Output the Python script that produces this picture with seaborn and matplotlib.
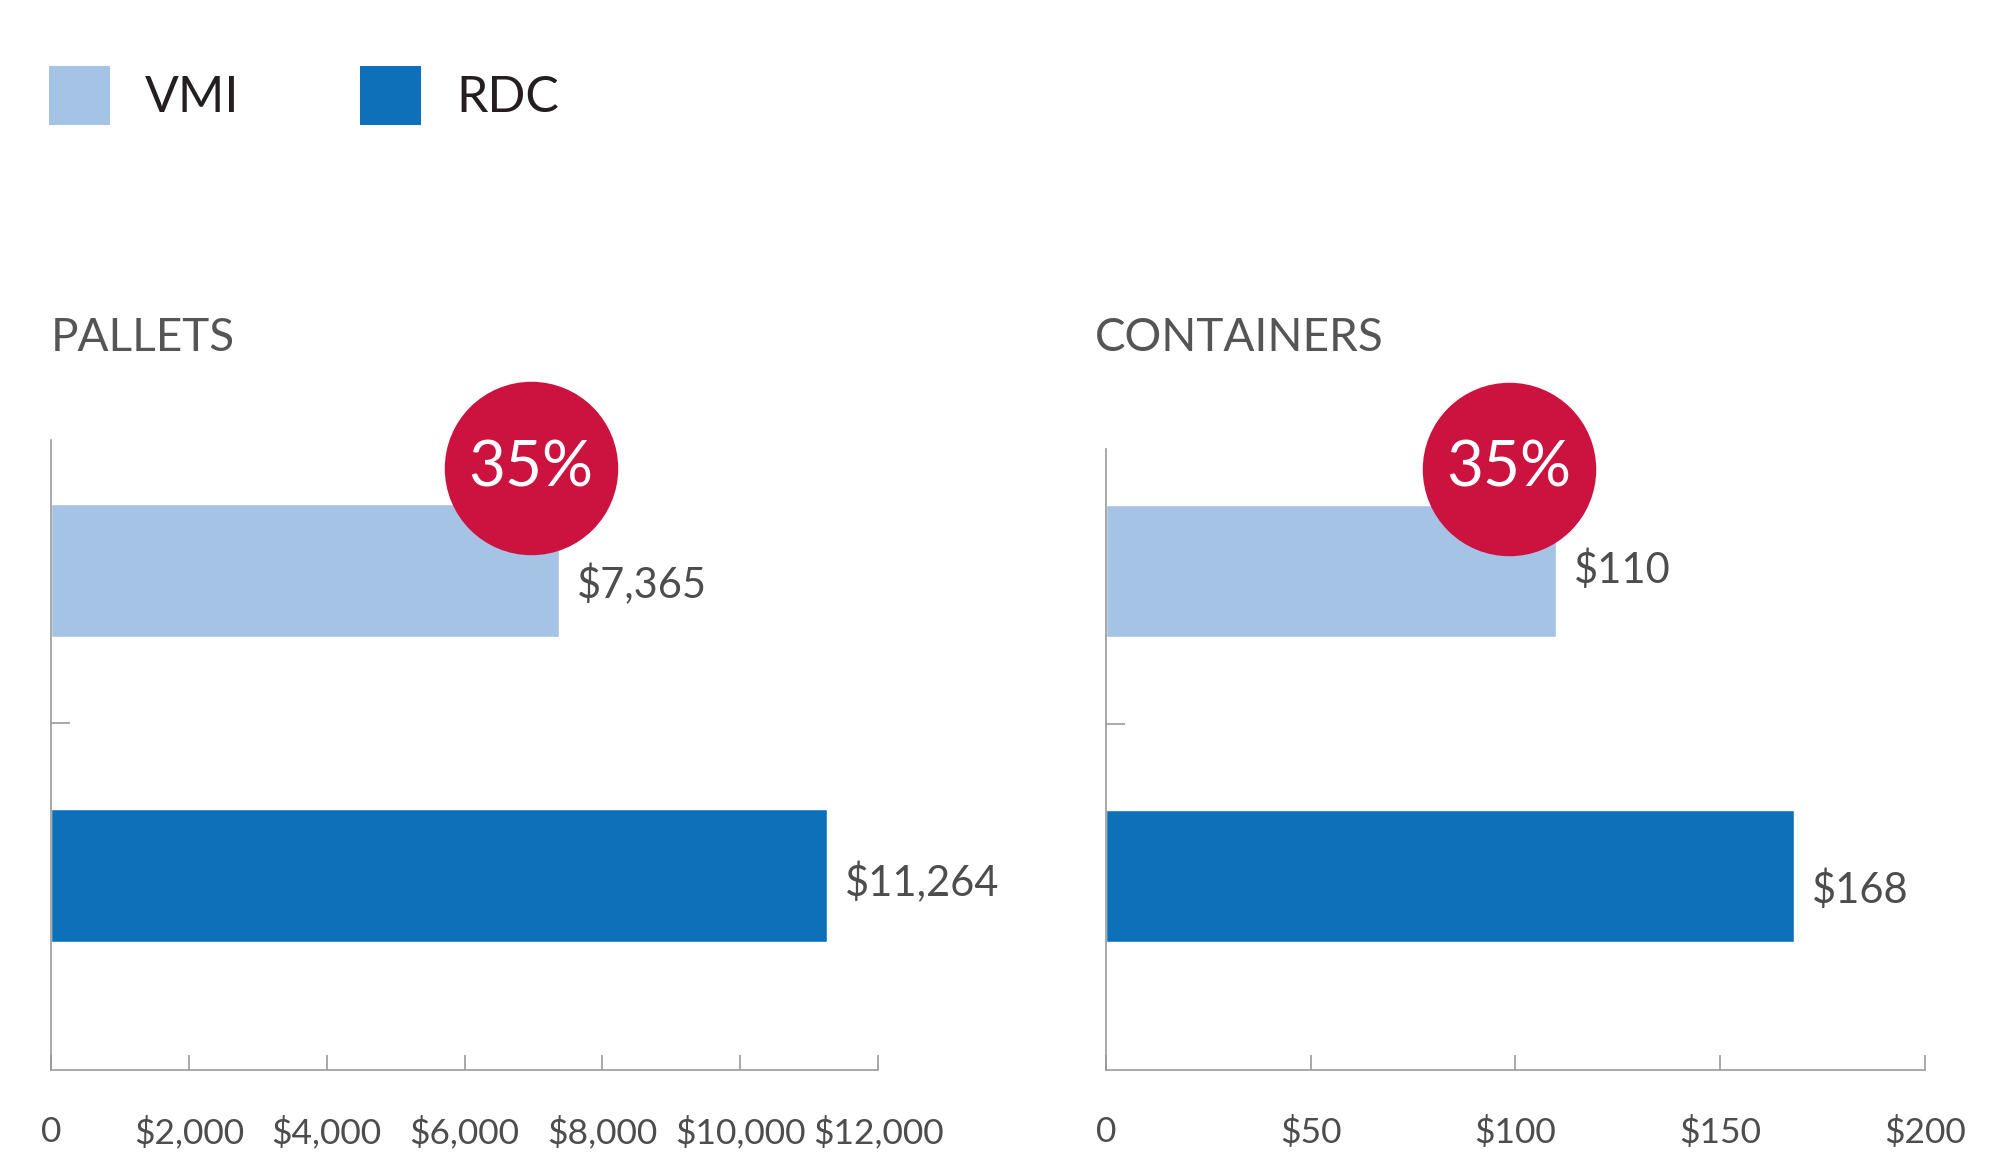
import matplotlib
matplotlib.use("Agg")
import matplotlib.pyplot as plt
import matplotlib.ticker as ticker
from matplotlib.patches import Patch
import pandas as pd
import seaborn as sns

# data
categories = ["VMI", "RDC"]
pallets = [7365, 11264]
containers = [110, 168]
pallet_ticks = [0, 2000, 4000, 6000, 8000, 10000, 12000]
container_ticks = [0, 50, 100, 150, 200]
savings = ["35%", "35%"]
badge_x = [6960, 98.4]
colors = {"VMI": "#A5C3E5", "RDC": "#0E70B8"}

grey = "#555555"
axis_grey = "#9a9a9a"

sns.set_theme(style="white")
plt.rcParams["font.family"] = ["Lato", "DejaVu Sans"]

fig = plt.figure(figsize=(20.02, 11.56), dpi=100)
ax1 = fig.add_axes([0.0255, 0.0744, 0.4131, 0.545])
ax2 = fig.add_axes([0.5524, 0.0744, 0.4091, 0.5372])


def money(x, _):
    return "0" if x == 0 else f"${int(x):,}"


def draw(ax, values, ticks, top, badge, label, dys):
    df = pd.DataFrame({"mode": categories, "cost": values})
    sns.barplot(data=df, x="cost", y="mode", hue="mode", palette=colors,
                width=0.435, orient="h", saturation=1, legend=False, ax=ax)
    ax.set_xlim(0, ticks[-1])
    ax.set_xticks(ticks)
    ax.xaxis.set_major_formatter(ticker.FuncFormatter(money))
    ax.set_ylim(1.636, top)
    ax.set_yticks([0.5])
    ax.set_yticklabels([])
    ax.set_xlabel("")
    ax.set_ylabel("")
    ax.tick_params(axis="x", bottom=True, direction="in", length=11, width=1.2,
                   color=axis_grey, pad=33, labelsize=25.5, labelcolor="#4d4d4d")
    ax.tick_params(axis="y", left=True, direction="in", length=14, width=1.2,
                   color=axis_grey)
    for s in ["top", "right"]:
        ax.spines[s].set_visible(False)
    for s in ["left", "bottom"]:
        ax.spines[s].set_color(axis_grey)
        ax.spines[s].set_linewidth(1.2)

    # value labels
    for i, v in enumerate(values):
        ax.annotate(f"${v:,}", (v, i), xytext=(13, dys[i]), textcoords="offset points",
                    ha="left", va="center", fontsize=30, color="#4d4d4d")

    # savings badge
    ax.scatter([badge], [-0.335], s=15600, color="#CC1340", linewidths=0,
               zorder=5, clip_on=False)
    ax.text(badge, -0.335, label, ha="center", va="center", fontsize=46,
            color="white", zorder=6, clip_on=False)


draw(ax1, pallets, pallet_ticks, -0.427, badge_x[0], savings[0], [-10, -5])
draw(ax2, containers, container_ticks, -0.40, badge_x[1], savings[1], [1, -10])

fig.text(51 / 2002, 1 - 338 / 1156, "PALLETS", va="center", ha="left",
         fontsize=33, color=grey)
fig.text(1095 / 2002, 1 - 338 / 1156, "CONTAINERS", va="center", ha="left",
         fontsize=33, color=grey)

handles = [Patch(facecolor=colors[c], edgecolor="none") for c in categories]
leg = fig.legend(handles, categories, loc="upper left",
                 bbox_to_anchor=(48.5 / 2002, 1 - 66 / 1156), ncol=2, frameon=False,
                 fontsize=36, handlelength=1.22, handleheight=1.45,
                 handletextpad=0.7, columnspacing=2.42, borderpad=0, borderaxespad=0)
for t in leg.get_texts():
    t.set_color("#231f20")

plt.savefig("out.png", dpi=100)
